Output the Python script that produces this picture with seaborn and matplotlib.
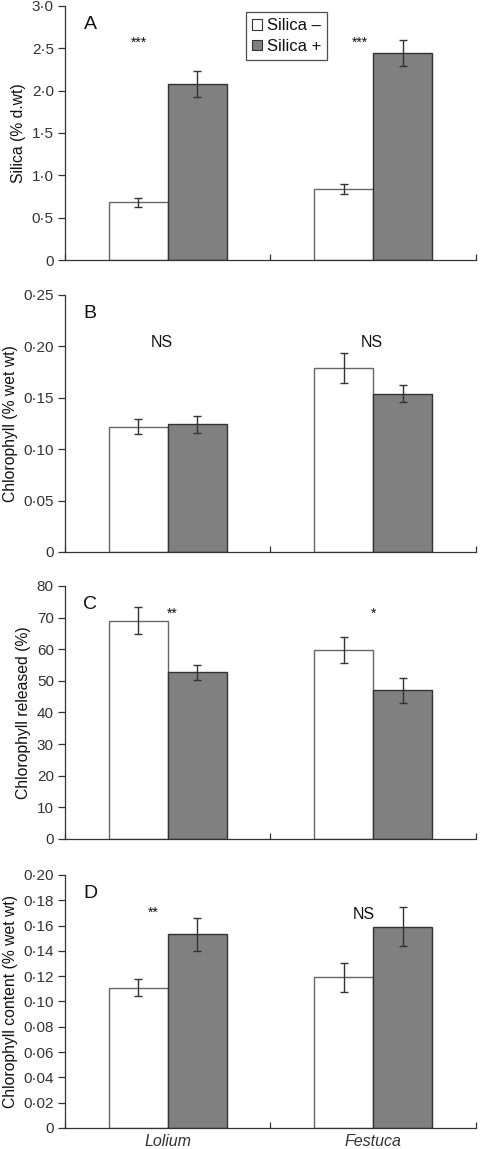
import numpy as np
import pandas as pd
import matplotlib
matplotlib.use("Agg")
import matplotlib.pyplot as plt
import matplotlib.ticker as mticker
from matplotlib.patches import Patch
import seaborn as sns

# ─── Data ────────────────────────────────────────────────
genus = ["Lolium", "Festuca"]
treatments = ["Silica –", "Silica +"]

silica_minus = [0.68, 0.84]
silica_plus = [2.08, 2.44]
silica_minus_err = [0.055, 0.063]
silica_plus_err = [0.153, 0.153]

chl_minus = [0.122, 0.179]
chl_plus = [0.124, 0.154]
chl_minus_err = [0.0077, 0.015]
chl_plus_err = [0.0082, 0.0083]

rel_minus = [69.0, 59.8]
rel_plus = [52.7, 47.0]
rel_minus_err = [4.3, 4.0]
rel_plus_err = [2.3, 4.05]

cont_minus = [0.111, 0.119]
cont_plus = [0.153, 0.159]
cont_minus_err = [0.0065, 0.0115]
cont_plus_err = [0.013, 0.0155]

sig_A = ["***", "***"]
sig_B = ["NS", "NS"]
sig_C = ["**", "*"]
sig_D = ["**", "NS"]

# ─── Style ───────────────────────────────────────────────
sns.set_theme(style="ticks")
plt.rcParams["font.family"] = ["Liberation Sans", "DejaVu Sans"]
plt.rcParams.update({
    "axes.linewidth": 0.9,
    "axes.edgecolor": "#333333",
    "xtick.color": "#333333",
    "ytick.color": "#333333",
    "text.color": "#111111",
    "axes.labelcolor": "#111111",
})

WHITE = "#FFFFFF"
GREY = "#808080"
EDGE_W = "#666666"
EDGE_G = "#333333"

panels = [
    dict(letter="A", minus=silica_minus, plus=silica_plus, em=silica_minus_err, ep=silica_plus_err,
         ylim=3.0, step=0.5, dec=1, ylabel="Silica (% d.wt)", sig=sig_A,
         sig_pos=[(-0.14, 2.57), (0.935, 2.57)], sig_size=10),
    dict(letter="B", minus=chl_minus, plus=chl_plus, em=chl_minus_err, ep=chl_plus_err,
         ylim=0.25, step=0.05, dec=2, ylabel="Chlorophyll (% wet wt)", sig=sig_B,
         sig_pos=[(-0.03, 0.204), (0.995, 0.204)], sig_size=11.5),
    dict(letter="C", minus=rel_minus, plus=rel_plus, em=rel_minus_err, ep=rel_plus_err,
         ylim=80, step=10, dec=0, ylabel="Chlorophyll released (%)", sig=sig_C,
         sig_pos=[(0.02, 71.3), (1.0, 71.3)], sig_size=10),
    dict(letter="D", minus=cont_minus, plus=cont_plus, em=cont_minus_err, ep=cont_plus_err,
         ylim=0.20, step=0.02, dec=2, ylabel="Chlorophyll content (% wet wt)", sig=sig_D,
         sig_pos=[(-0.07, 0.170), (0.955, 0.169)], sig_size=[10, 11.5]),
]

# axes rectangles (fig fraction) for the four stacked panels
rects = [
    [0.1351, 0.7737, 0.8545, 0.2211],
    [0.1351, 0.5196, 0.8545, 0.2237],
    [0.1351, 0.2698, 0.8545, 0.2202],
    [0.1351, 0.0183, 0.8545, 0.2202],
]

fig = plt.figure(figsize=(4.81, 11.49), dpi=100)

for i, (p, rect) in enumerate(zip(panels, rects)):
    ax = fig.add_axes(rect)
    df = pd.DataFrame({
        "Genus": genus * 2,
        "Treatment": [treatments[0]] * 2 + [treatments[1]] * 2,
        "Value": p["minus"] + p["plus"],
    })
    sns.barplot(data=df, x="Genus", y="Value", hue="Treatment", order=genus,
                hue_order=treatments, palette={treatments[0]: WHITE, treatments[1]: GREY},
                width=0.575, errorbar=None, legend=False, ax=ax, saturation=1)

    errs = [p["em"], p["ep"]]
    for cont, err, ec in zip(ax.containers, errs, [EDGE_W, EDGE_G]):
        xs, ys = [], []
        for bar in cont:
            bar.set_edgecolor(ec)
            bar.set_linewidth(1.0)
            xs.append(bar.get_x() + bar.get_width() / 2)
            ys.append(bar.get_height())
        ax.errorbar(xs, ys, yerr=err, fmt="none", ecolor="#333333",
                    elinewidth=1.0, capsize=2.6, capthick=1.0, zorder=5)

    ax.set_xlim(-0.5, 1.5)
    ax.set_ylim(0, p["ylim"])
    sns.despine(ax=ax)

    # category boundary ticks (inward), names as minor labels
    ax.set_xticks([-0.5, 0.5, 1.5])
    ax.set_xticklabels([])
    ax.tick_params(axis="x", which="major", direction="in", length=4, width=0.9)
    ax.set_xticks([0, 1], minor=True)
    if i == 3:
        ax.set_xticklabels(genus, minor=True, fontstyle="italic", fontsize=11.5)
    ax.tick_params(axis="x", which="minor", length=0, pad=4)
    ax.set_xlabel("")

    ticks = np.arange(0, p["ylim"] + p["step"] / 2, p["step"])
    ax.set_yticks(ticks)
    dec = p["dec"]
    ax.yaxis.set_major_formatter(mticker.FuncFormatter(
        lambda v, pos, d=dec: "0" if abs(v) < 1e-9 else f"{v:.{d}f}".replace(".", "·")))
    ax.tick_params(axis="y", direction="out", length=5, width=0.9, labelsize=11, pad=3)
    ax.set_ylabel(p["ylabel"], fontsize=11.3, labelpad=4)

    ax.text(0.045, 0.96, p["letter"], transform=ax.transAxes, fontsize=14,
            ha="left", va="top")
    sizes = p["sig_size"] if isinstance(p["sig_size"], list) else [p["sig_size"]] * 2
    for (sx, sy), s, fs in zip(p["sig_pos"], p["sig"], sizes):
        ax.text(sx, sy, s, ha="center", va="center", fontsize=fs)

    if i == 0:
        handles = [Patch(facecolor=WHITE, edgecolor="#333333", linewidth=0.8),
                   Patch(facecolor=GREY, edgecolor="#333333", linewidth=0.8)]
        leg = ax.legend(handles, treatments, loc="upper left", bbox_to_anchor=(0.44, 0.975),
                        fontsize=12, frameon=True, fancybox=False, handlelength=0.6,
                        handleheight=0.6, handletextpad=0.3, borderpad=0.35,
                        labelspacing=0.35, borderaxespad=0)
        leg.get_frame().set_edgecolor("#222222")
        leg.get_frame().set_linewidth(0.9)

fig.savefig("out.png", dpi=100)
